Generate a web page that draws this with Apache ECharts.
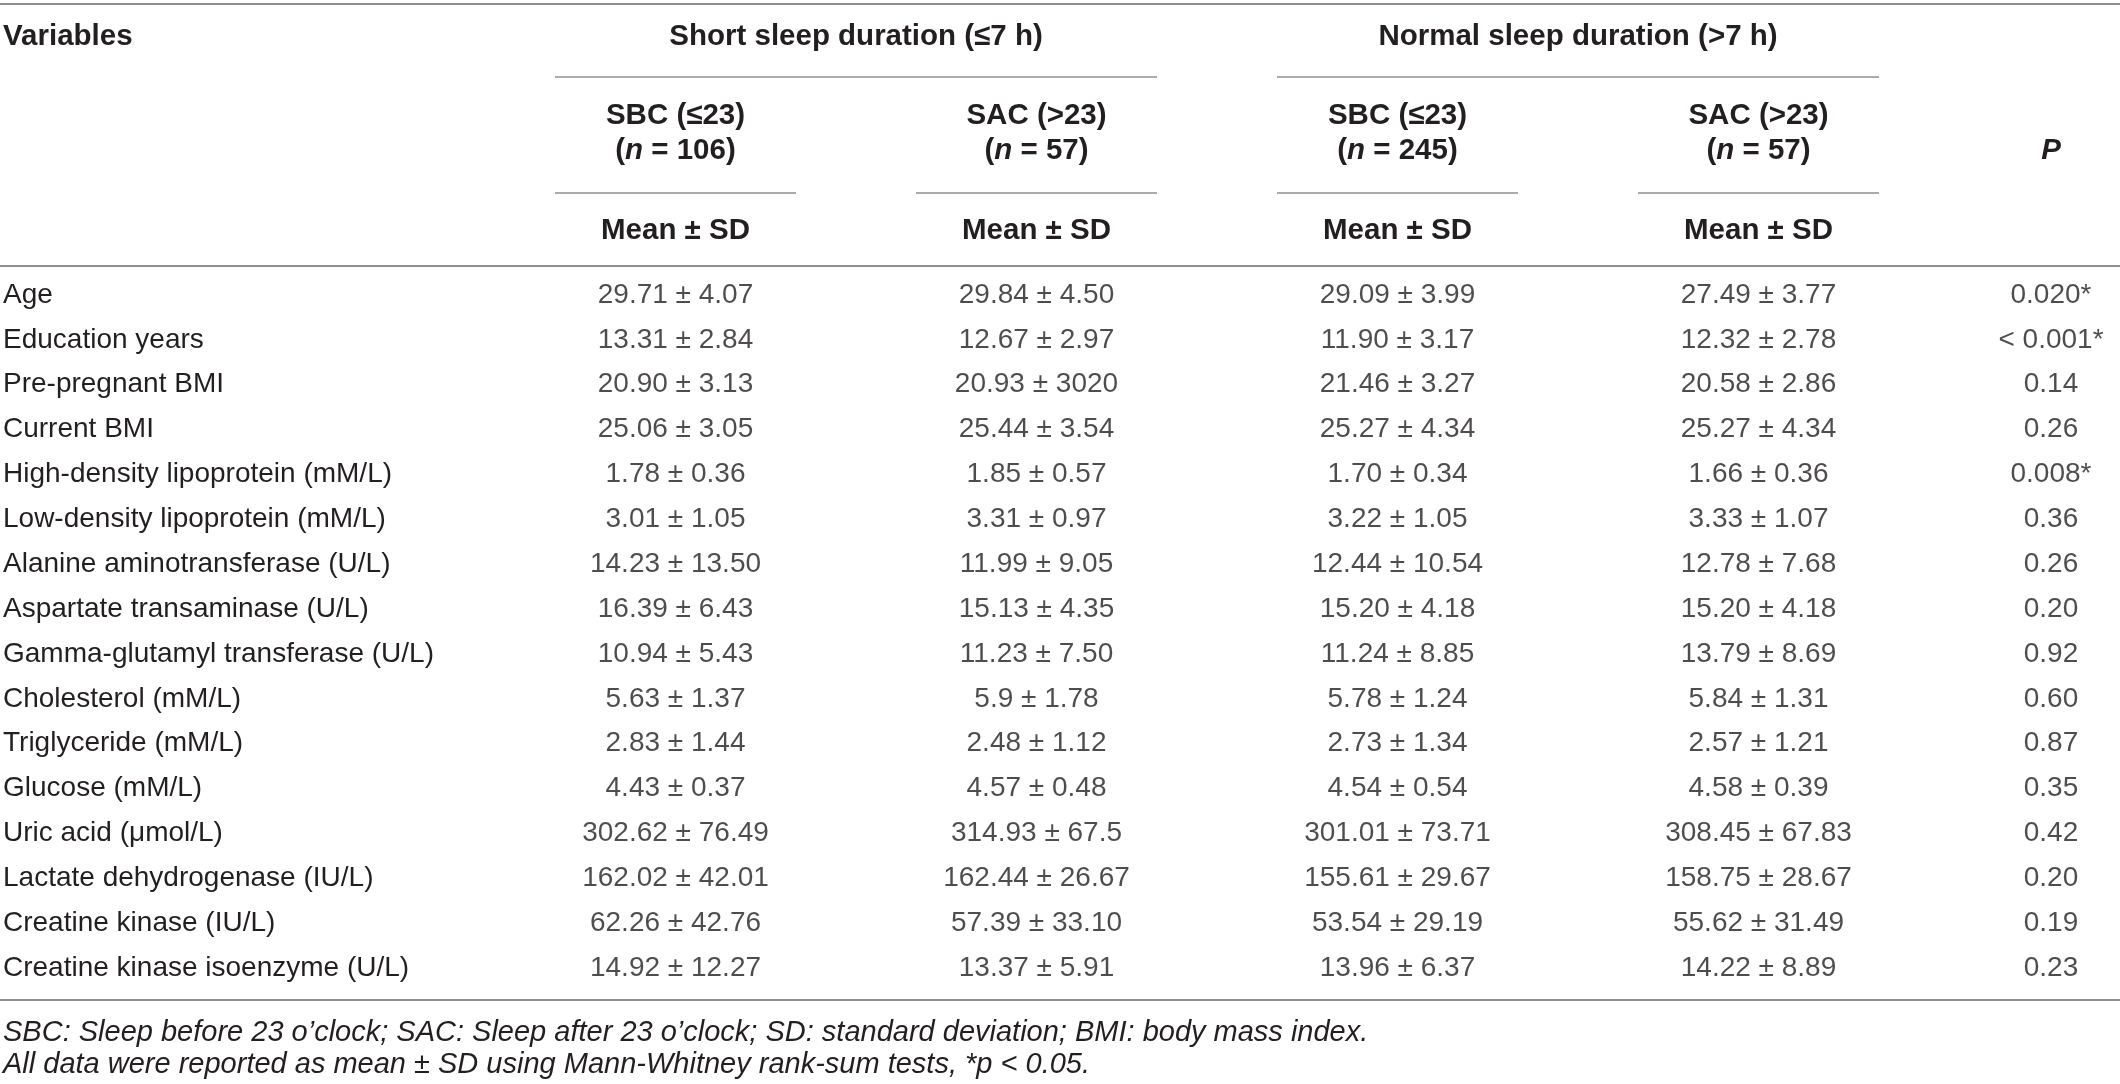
<!DOCTYPE html>
<html>
<head>
<meta charset="utf-8">
<script src="https://cdn.jsdelivr.net/npm/echarts@6/dist/echarts.min.js"></script>
<style>
html,body{margin:0;padding:0;background:#fff;}
#chart{width:2120px;height:1084px;}
</style>
</head>
<body>
<div id="chart"></div>
<script>
// ---------- data ----------
const variables = [
  "Age", "Education years", "Pre-pregnant BMI", "Current BMI",
  "High-density lipoprotein (mM/L)", "Low-density lipoprotein (mM/L)",
  "Alanine aminotransferase (U/L)", "Aspartate transaminase (U/L)",
  "Gamma-glutamyl transferase (U/L)", "Cholesterol (mM/L)", "Triglyceride (mM/L)",
  "Glucose (mM/L)", "Uric acid (\u03bcmol/L)", "Lactate dehydrogenase (IU/L)",
  "Creatine kinase (IU/L)", "Creatine kinase isoenzyme (U/L)"
];
const groupHeaders = ["Short sleep duration (\u22647 h)", "Normal sleep duration (>7 h)"];
const subHeaders = ["SBC (\u226423)", "SAC (>23)", "SBC (\u226423)", "SAC (>23)"];
const sampleSizes = [106, 57, 245, 57];
const columnKeys = ["shortSBC", "shortSAC", "normalSBC", "normalSAC"];

const shortSBCMean = ["29.71","13.31","20.90","25.06","1.78","3.01","14.23","16.39","10.94","5.63","2.83","4.43","302.62","162.02","62.26","14.92"];
const shortSBCSD   = ["4.07","2.84","3.13","3.05","0.36","1.05","13.50","6.43","5.43","1.37","1.44","0.37","76.49","42.01","42.76","12.27"];
const shortSACMean = ["29.84","12.67","20.93","25.44","1.85","3.31","11.99","15.13","11.23","5.9","2.48","4.57","314.93","162.44","57.39","13.37"];
const shortSACSD   = ["4.50","2.97","3020","3.54","0.57","0.97","9.05","4.35","7.50","1.78","1.12","0.48","67.5","26.67","33.10","5.91"];
const normalSBCMean = ["29.09","11.90","21.46","25.27","1.70","3.22","12.44","15.20","11.24","5.78","2.73","4.54","301.01","155.61","53.54","13.96"];
const normalSBCSD   = ["3.99","3.17","3.27","4.34","0.34","1.05","10.54","4.18","8.85","1.24","1.34","0.54","73.71","29.67","29.19","6.37"];
const normalSACMean = ["27.49","12.32","20.58","25.27","1.66","3.33","12.78","15.20","13.79","5.84","2.57","4.58","308.45","158.75","55.62","14.22"];
const normalSACSD   = ["3.77","2.78","2.86","4.34","0.36","1.07","7.68","4.18","8.69","1.31","1.21","0.39","67.83","28.67","31.49","8.89"];
const pValues = ["0.020*","< 0.001*","0.14","0.26","0.008*","0.36","0.26","0.20","0.92","0.60","0.87","0.35","0.42","0.20","0.19","0.23"];

const footnotes = [
  "SBC: Sleep before 23 o\u2019clock; SAC: Sleep after 23 o\u2019clock; SD: standard deviation; BMI: body mass index.",
  "All data were reported as mean \u00b1 SD using Mann-Whitney rank-sum tests, *p < 0.05."
];

// ---------- style ----------
const FONT = '"Liberation Sans", Arial, Helvetica, sans-serif';
const TXT = '#231f20';
const RULE = '#8f8f8f';
const FS = 28;
const FSB = 29.5;
const FSF = 29;

const meanCols = [
  [shortSBCMean, shortSBCSD], [shortSACMean, shortSACSD],
  [normalSBCMean, normalSBCSD], [normalSACMean, normalSACSD]
];

const chart = echarts.init(document.getElementById('chart'), null, {renderer: 'canvas'});

const labelStyle = {
  show: true, position: 'inside', fontSize: FS, fontFamily: FONT, color: TXT
};

const series = meanCols.map((pair, c) => ({
  type: 'scatter', xAxisIndex: 0, yAxisIndex: 0,
  symbolSize: 1, itemStyle: {color: 'rgba(0,0,0,0)'},
  silent: true,
  data: variables.map((v, r) => [columnKeys[c], v]),
  label: Object.assign({}, labelStyle, {
    formatter: p => pair[0][p.dataIndex] + ' \u00b1 ' + pair[1][p.dataIndex]
  })
}));
series.push({
  type: 'scatter', xAxisIndex: 1, yAxisIndex: 1,
  symbolSize: 1, itemStyle: {color: 'rgba(0,0,0,0)'},
  silent: true,
  data: variables.map(v => ['P', v]),
  label: Object.assign({}, labelStyle, {formatter: p => pValues[p.dataIndex]})
});

const rowTop = 272.6, rowBottom = 1084 - 990.5;
const gridLeft = 495;

chart.setOption({
  animation: false,
  backgroundColor: '#fff',
  grid: [
    {left: gridLeft, width: 1444, top: rowTop, bottom: rowBottom},
    {left: 1982, width: 138, top: rowTop, bottom: rowBottom}
  ],
  xAxis: [
    {type: 'category', gridIndex: 0, data: columnKeys, show: false},
    {type: 'category', gridIndex: 1, data: ['P'], show: false}
  ],
  yAxis: [
    {type: 'category', gridIndex: 0, data: variables, inverse: true,
     axisLine: {show: false}, axisTick: {show: false}, splitLine: {show: false},
     axisLabel: {show: true, interval: 0, align: 'left', margin: gridLeft - 3,
                 fontSize: FS, fontFamily: FONT, color: TXT}},
    {type: 'category', gridIndex: 1, data: variables, inverse: true, show: false}
  ],
  series: series
});

// ---------- header + rules from axis positions ----------
const cx = columnKeys.map(k => chart.convertToPixel({xAxisIndex: 0}, k));
const px = chart.convertToPixel({xAxisIndex: 1}, 'P');
const halfRule = 120.5;
const W = 2120;

const g = [];
function hline(x1, x2, y, w) {
  g.push({type: 'line', silent: true,
    shape: {x1: x1, y1: y, x2: x2, y2: y},
    style: {stroke: RULE, lineWidth: w || 1.5}});
}
function txt(t, x, y, opts) {
  opts = opts || {};
  g.push({type: 'text', silent: true, x: x, y: y,
    style: Object.assign({
      text: t, fill: TXT, fontSize: opts.size || FS, fontFamily: FONT,
      fontWeight: opts.weight || 'normal', fontStyle: opts.style || 'normal',
      align: opts.align || 'center', verticalAlign: 'middle'
    }, opts.extra || {})});
}

const yTop = 4, yGroup = 36.5, yGroupRule = 77, ySub1 = 116, ySub2 = 151,
      ySubRule = 193, yMean = 231, yHeadRule = 266, yBottom = 1000,
      yFoot1 = 1033, yFoot2 = 1065;

hline(0, W, yTop, 2);
hline(0, W, yHeadRule, 2);
hline(0, W, yBottom, 2);

txt('Variables', 3, yGroup, {weight: 'bold', align: 'left', size: FSB});
[0, 1].forEach(gi => {
  const a = cx[gi * 2], b = cx[gi * 2 + 1];
  txt(groupHeaders[gi], (a + b) / 2, yGroup, {weight: 'bold', size: FSB});
  hline(a - halfRule, b + halfRule, yGroupRule, 1.5);
});
cx.forEach((x, i) => {
  txt(subHeaders[i], x, ySub1, {weight: 'bold', size: FSB});
  txt('({i|n} = ' + sampleSizes[i] + ')', x, ySub2, {weight: 'bold', size: FSB, extra: {
    rich: {i: {fontStyle: 'italic', fontWeight: 'bold', fontSize: FSB, fontFamily: FONT, fill: TXT}}
  }});
  hline(x - halfRule, x + halfRule, ySubRule, 1.5);
  txt('Mean \u00b1 SD', x, yMean, {weight: 'bold', size: FSB});
});
txt('P', px, ySub2, {weight: 'bold', style: 'italic', size: FSB});

txt(footnotes[0], 3, yFoot1, {style: 'italic', align: 'left', size: FSF});
txt(footnotes[1], 3, yFoot2, {style: 'italic', align: 'left', size: FSF});

chart.setOption({graphic: {elements: g}});
</script>
</body>
</html>
